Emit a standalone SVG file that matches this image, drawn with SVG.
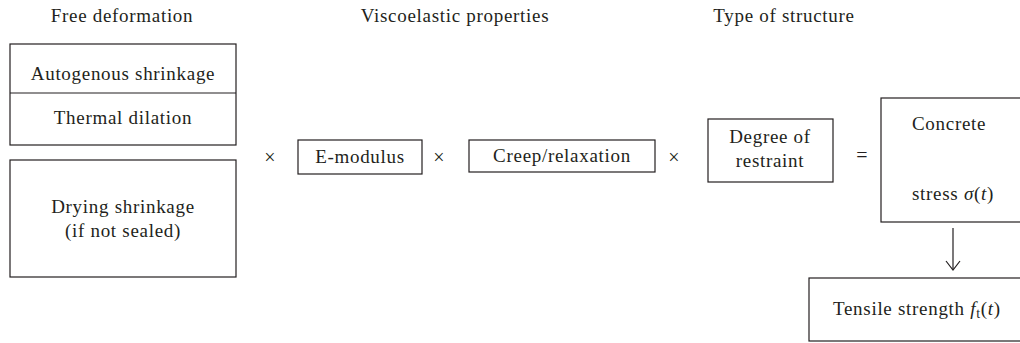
<svg xmlns="http://www.w3.org/2000/svg" width="1020" height="343" viewBox="0 0 1020 343">
  <style>
    text { font-family: "Liberation Serif", "Times New Roman", serif; font-size: 19px; letter-spacing: 0.7px; fill: #231f20; }
    .mid { text-anchor: middle; }
    .box { fill: #ffffff; stroke: #231f20; stroke-width: 1.2; }
    .op { font-size: 20px; letter-spacing: 0; }
    .conn { fill: none; stroke: #231f20; stroke-width: 1.2; }
    .it { font-style: italic; }
  </style>

  <rect width="1020" height="343" fill="#ffffff"/>

  <!-- column headings -->
  <g id="headings">
    <text class="mid" x="122" y="22">Free deformation</text>
    <text class="mid" x="455" y="22">Viscoelastic properties</text>
    <text class="mid" x="784" y="22">Type of structure</text>
  </g>

  <!-- free deformation inputs -->
  <g id="node-autogenous-thermal">
    <rect class="box" x="10" y="44" width="226" height="101"/>
    <line class="conn" x1="10" y1="93" x2="236" y2="93"/>
    <text class="mid" x="123" y="80">Autogenous shrinkage</text>
    <text class="mid" x="123" y="124">Thermal dilation</text>
  </g>

  <g id="node-drying">
    <rect class="box" x="10" y="160" width="226" height="117"/>
    <text class="mid" x="123" y="213">Drying shrinkage</text>
    <text class="mid" x="123" y="237">(if not sealed)</text>
  </g>

  <!-- viscoelastic properties -->
  <g id="node-emodulus">
    <rect class="box" x="298" y="140" width="124" height="34"/>
    <text class="mid" x="360" y="163">E-modulus</text>
  </g>

  <g id="node-creep">
    <rect class="box" x="469" y="140" width="186" height="32"/>
    <text class="mid" x="562" y="162">Creep/relaxation</text>
  </g>

  <!-- type of structure -->
  <g id="node-restraint">
    <rect class="box" x="708" y="119" width="125" height="63"/>
    <text class="mid" x="770" y="143">Degree of</text>
    <text class="mid" x="770" y="167">restraint</text>
  </g>

  <!-- result -->
  <g id="node-stress">
    <rect class="box" x="881" y="98" width="145" height="124"/>
    <text x="912" y="130">Concrete</text>
    <text x="912" y="200">stress <tspan class="it">σ</tspan>(<tspan class="it">t</tspan>)</text>
  </g>

  <g id="node-tensile">
    <rect class="box" x="809" y="278" width="217" height="63"/>
    <text x="833" y="315">Tensile strength <tspan class="it">f</tspan><tspan font-size="14" dy="3">t</tspan><tspan dy="-3">(</tspan><tspan class="it">t</tspan>)</text>
  </g>

  <!-- operators and connectors -->
  <g id="connectors">
    <text class="mid op" x="270" y="164">×</text>
    <text class="mid op" x="439" y="164">×</text>
    <text class="mid op" x="674" y="164">×</text>
    <text class="mid op" x="862" y="162">=</text>
    <line class="conn" x1="953" y1="228" x2="953" y2="269"/>
    <path class="conn" d="M946 261 L953 270 L960 261"/>
  </g>
</svg>
